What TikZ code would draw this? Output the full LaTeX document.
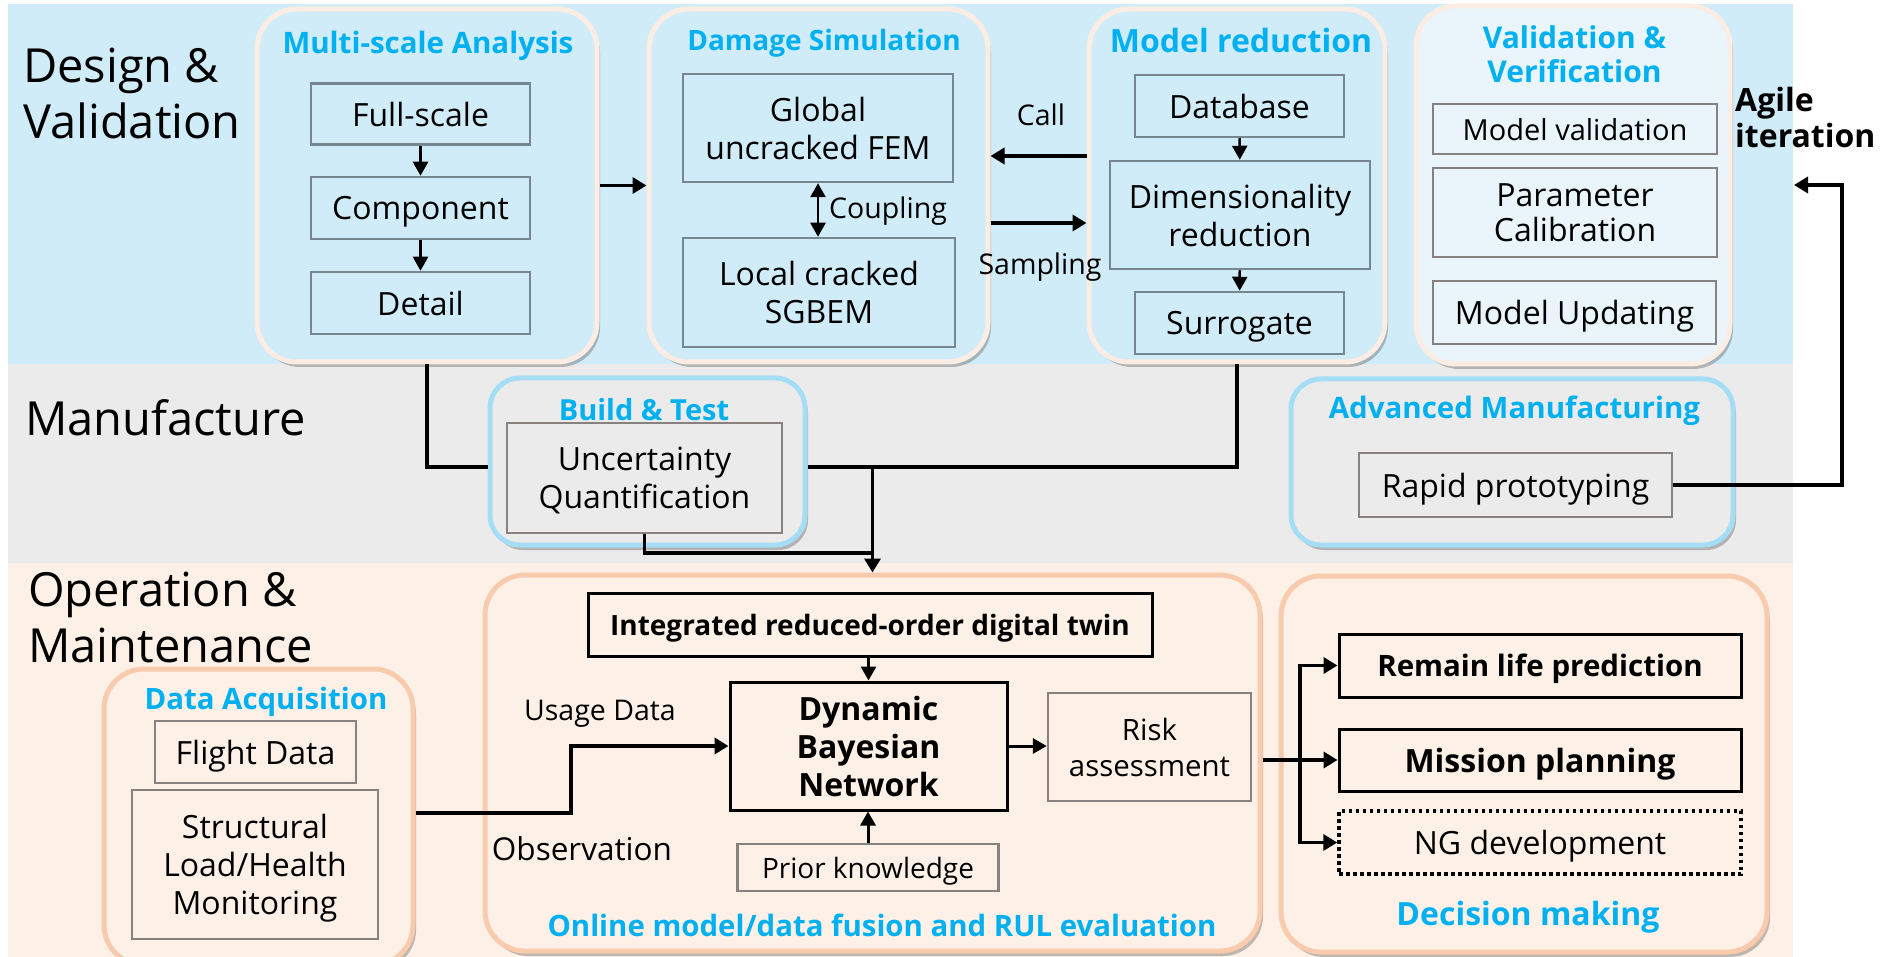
\documentclass[tikz,border=0pt]{standalone}
\usepackage{fontspec}
\setmainfont{Open Sans}
\usetikzlibrary{arrows.meta,shadows}

\definecolor{bandblue}{HTML}{D0ECF8}
\definecolor{bandgrey}{HTML}{EBEBEB}
\definecolor{bandpeach}{HTML}{FDF0E7}
\definecolor{cream}{HTML}{FCEDE4}
\definecolor{vvfill}{HTML}{E9F5FB}
\definecolor{skyline}{HTML}{A5DDF5}
\definecolor{peachline}{HTML}{F8CBAD}
\definecolor{titleblue}{HTML}{00B0F0}
\definecolor{slate}{HTML}{76878F}
\definecolor{warmgrey}{HTML}{878280}

\newcommand\fsz[2]{\fontsize{#1pt}{#2pt}\selectfont}

\begin{document}
\begin{tikzpicture}[x=1pt,y=-1pt,
  grp/.style={rounded corners=40pt, line width=5pt,
    drop shadow={shadow xshift=3pt, shadow yshift=-5pt, opacity=0.35, fill=black!70}},
  sgrp/.style={grp, rounded corners=30pt},
  ttl/.style={text=titleblue, font=\bfseries\fsz{#1}{34}, inner sep=0pt, align=center, text depth=0pt},
  gbox/.style={draw=slate, line width=2.5pt, align=center, inner sep=0pt, text depth=0pt, font=\fsz{32}{38}},
  wbox/.style={gbox, draw=warmgrey},
  kbox/.style={draw=black, line width=3pt, align=center, inner sep=0pt, text depth=0pt, font=\bfseries\fsz{29.5}{38}},
  lbl/.style={inner sep=0pt, text depth=0pt, font=\fsz{28.5}{34}},
  sect/.style={inner sep=0pt, align=left, font=\fsz{47}{56}},
  conn/.style={line width=3.8pt, line cap=butt},
  arr/.style={conn, -{Triangle[length=14pt,width=16pt]}},
  sarr/.style={line width=2.5pt, -{Triangle[length=14pt,width=15pt]}},
  darr/.style={line width=2.5pt, {Triangle[length=14pt,width=15pt]}-{Triangle[length=14pt,width=15pt]}},
]
\useasboundingbox (0,0) rectangle (1880,957);

% ---- phase bands ----
\fill[bandblue] (8,4) rectangle (1793,364);
\fill[bandgrey] (8,364) rectangle (1793,563);
\fill[bandpeach] (8,563) rectangle (1793,957);

% ---- phase names ----
\node[sect, anchor=west] (dvL) at (23,93) {Design \&\\Validation};
\node[sect, anchor=west] (mfL) at (25,418) {Manufacture};
\node[sect, anchor=west] (omL) at (28,617) {Operation \&\\Maintenance};

% ---- group frames ----
\node[grp, draw=cream, fill=bandblue, minimum width=340pt, minimum height=353pt] (msa) at (427,185.5) {};
\node[grp, draw=cream, fill=bandblue, minimum width=339pt, minimum height=353pt] (dmg) at (818.5,185.5) {};
\node[grp, draw=cream, fill=bandblue, minimum width=296pt, minimum height=353pt] (mr) at (1237,185.5) {};
\node[grp, draw=cream, fill=vvfill, minimum width=314pt, minimum height=358pt] (vv) at (1573,185) {};
\node[sgrp, draw=skyline, fill=bandgrey, minimum width=315pt, minimum height=167pt] (bt) at (647.5,461.5) {};
\node[sgrp, draw=skyline, fill=bandgrey, minimum width=442pt, minimum height=166pt] (am) at (1512,462) {};
\node[grp, draw=peachline, fill=bandpeach, minimum width=775pt, minimum height=376pt] (online) at (872.5,763) {};
\node[grp, draw=peachline, fill=bandpeach, minimum width=309pt, minimum height=296pt] (daq) at (258.5,817) {};
\node[grp, draw=peachline, fill=bandpeach, minimum width=486pt, minimum height=376pt] (dec) at (1524,764) {};

% ---- group titles ----
\node[ttl=29.5] (msaT) at (428,42) {Multi-scale Analysis};
\node[ttl=28] (dmgT) at (824,40) {Damage Simulation};
\node[ttl=32] (mrT) at (1241,40) {Model reduction};
\node[ttl=30] (vvT) at (1574.5,54) {Validation \&\\Verification};
\node[ttl=29] (btT) at (644,409) {Build \& Test};
\node[ttl=29.5] (amT) at (1514.5,407) {Advanced Manufacturing};
\node[ttl=29.4] (onT) at (882,925) {Online model/data fusion and RUL evaluation};
\node[ttl=29.4] (daqT) at (266,698) {Data Acquisition};
\node[ttl=32] (decT) at (1528,913) {Decision making};

% ---- design & validation boxes ----
\node[gbox, minimum width=219pt, minimum height=61pt] (full) at (420.5,114) {Full-scale};
\node[gbox, minimum width=219pt, minimum height=62pt] (comp) at (420.5,208) {Component};
\node[gbox, minimum width=219pt, minimum height=62pt] (detail) at (420.5,303) {Detail};
\node[gbox, minimum width=270pt, minimum height=108pt] (glob) at (818,128) {Global\\uncracked FEM};
\node[gbox, minimum width=272pt, minimum height=109pt] (local) at (819,292.5) {Local cracked\\SGBEM};
\node[gbox, minimum width=209pt, minimum height=62pt] (db) at (1239.5,106) {Database};
\node[gbox, minimum width=260pt, minimum height=108pt] (dim) at (1240,215) {Dimensionality\\reduction};
\node[gbox, minimum width=209pt, minimum height=62pt] (sur) at (1239.5,323) {Surrogate};
\node[wbox, minimum width=284pt, minimum height=50pt, font=\fsz{29}{34}] (mval) at (1575,129) {Model validation};
\node[wbox, minimum width=284pt, minimum height=89pt, font=\fsz{32}{35}] (pcal) at (1575,212.5) {Parameter\\Calibration};
\node[wbox, minimum width=283pt, minimum height=63pt] (mupd) at (1574.5,312.5) {Model Updating};

% ---- manufacture boxes ----
\node[wbox, minimum width=275pt, minimum height=110pt] (uq) at (644.5,478) {Uncertainty\\Quantification};
\node[wbox, minimum width=313pt, minimum height=64pt] (rapid) at (1515.5,485) {Rapid prototyping};

% ---- operation boxes ----
\node[kbox, minimum width=564pt, minimum height=63pt, font=\bfseries\fsz{28}{34}] (integ) at (870,624.5) {Integrated reduced-order digital twin};
\node[kbox, minimum width=277pt, minimum height=128pt, font=\bfseries\fsz{32}{38}] (dbn) at (868.5,746) {Dynamic\\Bayesian\\Network};
\node[wbox, minimum width=203pt, minimum height=108pt, font=\fsz{29.4}{36}] (risk) at (1149.5,747) {Risk\\assessment};
\node[wbox, minimum width=261pt, minimum height=47pt, font=\fsz{28}{34}] (prior) at (868,867.5) {Prior knowledge};
\node[wbox, minimum width=201pt, minimum height=62pt] (flight) at (255.5,752) {Flight Data};
\node[wbox, minimum width=246pt, minimum height=149pt] (shm) at (255,864.5) {Structural\\Load/Health\\Monitoring};
\node[kbox, minimum width=402pt, minimum height=63pt] (remain) at (1540,665.5) {Remain life prediction};
\node[kbox, minimum width=402pt, minimum height=62pt, font=\bfseries\fsz{32}{38}] (mission) at (1540,760) {Mission planning};
\node[kbox, minimum width=402pt, minimum height=63pt, font=\fsz{32}{38}, line width=3.5pt, dash pattern=on 3.5pt off 3.5pt] (ng) at (1540,842.5) {NG development};

% ---- connector labels ----
\node[lbl] (callL) at (1041,115) {Call};
\node[lbl] (sampL) at (1040,264) {Sampling};
\node[lbl, anchor=west] (coupL) at (829,208) {Coupling};
\node[lbl] (usageL) at (600,710) {Usage Data};
\node[lbl, font=\fsz{31.5}{36}] (obsL) at (582,849) {Observation};
\node[inner sep=0pt, align=left, anchor=west, font=\bfseries\fsz{32}{36}] (agileL) at (1735,118) {Agile\\iteration};

% ---- routing points ----
\coordinate (callY) at (0,156);
\coordinate (sampY) at (0,223);
\coordinate (manY) at (0,467);
\coordinate (uqY) at (0,553);
\coordinate (obsTurn) at (571,813);
\coordinate (fork) at (1300,0);
\coordinate (agileTurn) at (1842,185);
\coordinate (agileTip) at (1794,185);

% ---- connectors: design & validation ----
\draw[sarr] (full) -- (comp);
\draw[sarr] (comp) -- (detail);
\draw[sarr] (db) -- (dim);
\draw[sarr] (dim) -- (sur);
\draw[darr] (glob.south) -- (glob.south |- local.north);
\draw[arr] (msa.east) -- (dmg.west);
\draw[arr] (mr.west |- callY) -- (dmg.east |- callY);
\draw[arr] (dmg.east |- sampY) -- (mr.west |- sampY);

% ---- connectors: into manufacture and operation ----
\draw[conn] (msa.south) |- (bt.west |- manY);
\draw[conn] (mr.south) |- (bt.east |- manY);
\draw[conn] (uq.south) |- (online.north |- uqY);
\draw[arr] (online.north |- manY) -- (online.north);
\draw[conn, line width=3.5pt, -{Triangle[length=14pt,width=16pt]}] (rapid.east) -| (agileTurn) -- (agileTip);

% ---- connectors: operation ----
\draw[arr] (daq.east |- obsTurn) -- (obsTurn) |- (dbn.west);
\draw[sarr, line width=3pt] (integ.south -| dbn.north) -- (dbn.north);
\draw[sarr, line width=3pt] (prior.north) -- (prior.north |- dbn.south);
\draw[sarr, line width=3pt] (dbn.east) -- (risk.west |- dbn.east);
\draw[arr] (online.east |- mission.west) -- (mission.west);
\draw[arr] (fork |- mission.west) |- (remain.west);
\draw[arr] (fork |- mission.west) |- (ng.west);

\end{tikzpicture}
\end{document}
